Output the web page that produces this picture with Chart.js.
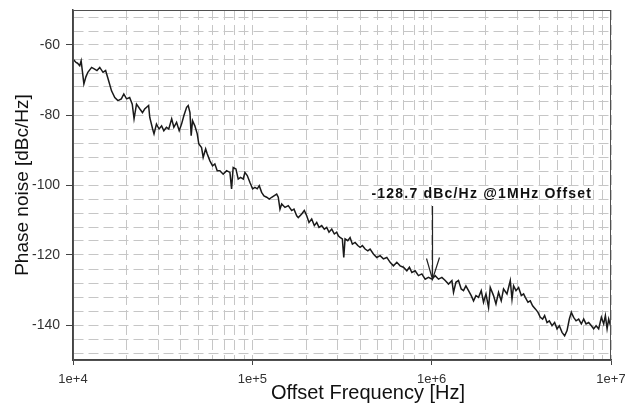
<!DOCTYPE html>
<html>
<head>
<meta charset="utf-8">
<script src="https://cdn.jsdelivr.net/npm/chart.js@4/dist/chart.umd.min.js"></script>
<style>
  html, body { margin: 0; padding: 0; background: #fff; }
  #wrap { width: 625px; height: 405px; }
</style>
</head>
<body>
<div id="wrap"><canvas id="c" width="625" height="405"></canvas></div>
<script>
// offset frequency (Hz)
const freqHz = [
  1.00e4, 1.04e4, 1.06e4, 1.09e4, 1.11e4, 1.15e4, 1.18e4, 1.21e4, 1.27e4, 1.32e4,
  1.36e4, 1.41e4, 1.47e4, 1.52e4, 1.57e4, 1.64e4, 1.71e4, 1.78e4, 1.86e4, 1.92e4,
  1.99e4, 2.07e4, 2.14e4, 2.19e4, 2.26e4, 2.36e4, 2.44e4, 2.51e4, 2.64e4, 2.68e4,
  2.78e4, 2.83e4, 2.92e4, 3.02e4, 3.12e4, 3.21e4, 3.32e4, 3.42e4, 3.55e4, 3.65e4,
  3.78e4, 3.91e4, 4.03e4, 4.15e4, 4.30e4, 4.39e4, 4.49e4, 4.56e4, 4.64e4, 4.78e4,
  4.93e4, 5.03e4, 5.21e4, 5.32e4, 5.49e4, 5.60e4, 5.80e4, 6.00e4, 6.18e4, 6.37e4,
  6.59e4, 6.88e4, 7.19e4, 7.50e4, 7.66e4, 7.82e4, 8.10e4, 8.34e4, 8.60e4, 8.90e4,
  9.09e4, 9.37e4, 9.70e4, 1.004e5, 1.034e5, 1.065e5, 1.093e5, 1.127e5, 1.161e5, 1.202e5,
  1.243e5, 1.282e5, 1.320e5, 1.367e5, 1.395e5, 1.426e5, 1.458e5, 1.521e5, 1.586e5, 1.657e5,
  1.707e5, 1.768e5, 1.804e5, 1.885e5, 1.949e5, 2.010e5, 2.070e5, 2.143e5, 2.216e5, 2.286e5,
  2.354e5, 2.437e5, 2.520e5, 2.599e5, 2.677e5, 2.772e5, 2.866e5, 2.956e5, 3.017e5, 3.084e5,
  3.176e5, 3.235e5, 3.289e5, 3.405e5, 3.508e5, 3.613e5, 3.741e5, 3.873e5, 3.989e5, 4.109e5,
  4.254e5, 4.404e5, 4.536e5, 4.732e5, 4.943e5, 5.158e5, 5.381e5, 5.622e5, 5.866e5, 6.119e5,
  6.393e5, 6.670e5, 6.959e5, 7.270e5, 7.516e5, 7.752e5, 8.088e5, 8.438e5, 8.815e5, 9.197e5,
  9.596e5, 1.003e6, 1.046e6, 1.092e6, 1.140e6, 1.190e6, 1.241e6, 1.297e6, 1.324e6, 1.365e6,
  1.411e6, 1.461e6, 1.505e6, 1.552e6, 1.605e6, 1.662e6, 1.712e6, 1.766e6, 1.825e6, 1.890e6,
  1.946e6, 2.008e6, 2.076e6, 2.122e6, 2.213e6, 2.283e6, 2.360e6, 2.443e6, 2.517e6, 2.630e6,
  2.744e6, 2.805e6, 2.863e6, 2.953e6, 3.053e6, 3.161e6, 3.256e6, 3.327e6, 3.444e6, 3.548e6,
  3.655e6, 3.785e6, 3.917e6, 4.035e6, 4.156e6, 4.264e6, 4.398e6, 4.530e6, 4.690e6, 4.849e6,
  5.000e6, 5.151e6, 5.333e6, 5.514e6, 5.687e6, 5.858e6, 6.010e6, 6.191e6, 6.385e6, 6.602e6,
  6.834e6, 7.040e6, 7.261e6, 7.508e6, 7.773e6, 8.005e6, 8.256e6, 8.536e6, 8.838e6, 9.103e6,
  9.304e6, 9.510e6, 9.707e6, 1.0e7
];

// phase noise (dBc/Hz)
const phaseNoise = [
  -64.0, -65.0, -65.2, -65.9, -64.5, -71.1, -69.1, -67.8, -66.4, -66.9,
  -67.3, -66.4, -67.8, -67.3, -69.7, -73.1, -75.0, -75.9, -75.4, -74.0,
  -75.4, -75.0, -76.9, -81.1, -76.9, -78.3, -79.3, -78.3, -77.3, -80.7,
  -84.0, -85.4, -82.6, -84.0, -83.1, -84.5, -83.5, -84.0, -81.1, -83.5,
  -82.1, -84.5, -82.6, -80.2, -77.8, -77.3, -79.3, -85.9, -81.6, -83.1,
  -85.4, -88.3, -89.3, -92.1, -89.7, -91.1, -93.1, -94.5, -94.0, -95.9,
  -95.9, -96.9, -95.9, -96.4, -101.1, -95.0, -95.4, -98.3, -97.8, -98.3,
  -96.4, -97.3, -99.3, -101.1, -100.7, -101.1, -100.2, -102.1, -103.1, -103.5,
  -104.0, -103.5, -103.1, -102.6, -103.5, -106.9, -105.4, -106.4, -105.9, -107.3,
  -106.9, -108.8, -109.3, -108.3, -107.3, -108.8, -110.7, -109.7, -111.6, -110.7,
  -112.1, -111.6, -112.6, -112.1, -113.5, -112.6, -114.0, -113.5, -114.5, -115.0,
  -115.4, -120.7, -115.4, -115.9, -115.0, -116.9, -116.4, -117.3, -117.8, -117.3,
  -118.3, -118.8, -118.3, -119.7, -120.7, -120.2, -121.1, -120.7, -122.1, -123.1,
  -122.1, -123.1, -123.5, -124.5, -123.5, -125.0, -124.5, -125.9, -125.4, -126.9,
  -126.4, -126.9, -125.9, -126.9, -126.4, -127.3, -128.3, -127.3, -130.7, -127.8,
  -127.3, -129.7, -130.2, -128.8, -130.2, -131.6, -133.1, -131.6, -132.1, -130.2,
  -133.5, -131.1, -135.0, -129.3, -131.6, -134.0, -130.7, -133.1, -129.7, -131.1,
  -127.3, -132.6, -128.8, -130.2, -129.3, -131.6, -131.1, -132.1, -133.5, -133.1,
  -134.5, -135.4, -136.4, -137.8, -138.3, -137.3, -139.3, -138.8, -140.2, -139.3,
  -141.1, -140.2, -142.1, -143.1, -141.6, -138.3, -136.4, -137.8, -138.8, -138.3,
  -139.7, -138.3, -139.7, -139.3, -140.2, -141.1, -140.2, -141.1, -137.8, -139.7,
  -137.3, -141.1, -138.3, -140.7
];

// axes
const xMin = 1e4, xMax = 1e7;
const xDecades = [1e4, 1e5, 1e6, 1e7];
const yMin = -150, yMax = -50;
const yGridStep = 4;      // dashed grid every 4 dB
const yLabelStep = 20;    // labels every 20 dB

// annotation
const noteText = '-128.7 dBc/Hz @1MHz Offset';
const noteFreq = 1e6;
const noteTip = -127.0;
const noteTail = -106.0;

const FONT = "'Liberation Sans', Arial, sans-serif";

function xGridValues() {
  const vals = [];
  for (let d = 0; d < xDecades.length - 1; d++) {
    for (let m = 1; m <= 9; m++) vals.push(m * xDecades[d]);
  }
  vals.push(xMax);
  return vals;
}

function yGridValues() {
  const vals = [];
  for (let v = Math.ceil((yMin + 1) / yGridStep) * yGridStep; v < yMax; v += yGridStep) vals.push(v);
  return vals;
}

function isDecade(v) {
  const l = Math.log10(v);
  return Math.abs(l - Math.round(l)) < 1e-9;
}

const overlay = {
  id: 'overlay',
  afterDraw(chart) {
    const { ctx, chartArea: a, scales } = chart;
    ctx.save();
    // frame
    ctx.strokeStyle = '#505050';
    ctx.lineWidth = 1;
    ctx.strokeRect(a.left + 0.5, a.top + 0.5, a.right - a.left - 1, a.bottom - a.top);

    // arrow
    const ax = Math.round(scales.x.getPixelForValue(noteFreq)) + 0.5;
    const tipY = scales.y.getPixelForValue(noteTip);
    const tailY = scales.y.getPixelForValue(noteTail);
    ctx.strokeStyle = '#222';
    ctx.lineWidth = 1.2;
    ctx.beginPath();
    ctx.moveTo(ax, tailY);
    ctx.lineTo(ax, tipY);
    ctx.moveTo(ax - 6, tipY - 21);
    ctx.lineTo(ax, tipY);
    ctx.lineTo(ax + 7, tipY - 22);
    ctx.stroke();

    // annotation text
    ctx.fillStyle = '#111';
    ctx.font = 'bold 14px ' + FONT;
    if ('letterSpacing' in ctx) ctx.letterSpacing = '1.2px';
    ctx.textAlign = 'left';
    ctx.textBaseline = 'alphabetic';
    ctx.fillText(noteText, ax - 61, tailY - 8);
    if ('letterSpacing' in ctx) ctx.letterSpacing = '0px';

    // x axis title
    ctx.font = '20px ' + FONT;
    ctx.textAlign = 'center';
    ctx.textBaseline = 'middle';
    ctx.fillText('Offset Frequency [Hz]', 368, 393);
    ctx.restore();
  }
};

const data = freqHz.map((f, i) => ({ x: f, y: phaseNoise[i] }));

new Chart(document.getElementById('c').getContext('2d'), {
  type: 'line',
  data: {
    datasets: [{
      data: data,
      borderColor: '#1a1a1a',
      borderWidth: 1.5,
      pointRadius: 0,
      tension: 0,
      fill: false
    }]
  },
  options: {
    responsive: false,
    animation: false,
    layout: { padding: { top: 10, right: 14, left: 0, bottom: 0 } },
    plugins: {
      legend: { display: false },
      tooltip: { enabled: false }
    },
    scales: {
      x: {
        type: 'logarithmic',
        min: xMin,
        max: xMax,
        afterBuildTicks: (scale) => {
          scale.ticks = xGridValues().map(v => ({ value: v }));
        },
        afterFit: (scale) => {
          scale.height = 45;
          scale.paddingLeft = 0;
          scale.paddingRight = 0;
        },
        grid: {
          color: '#c6c6c6',
          lineWidth: 1,
          tickLength: 5,
          tickColor: (c) => (c.tick && isDecade(c.tick.value)) ? '#444' : 'rgba(0,0,0,0)'
        },
        border: { color: '#444', width: 1.5, dash: [10, 5] },
        ticks: {
          autoSkip: false,
          maxRotation: 0,
          padding: 7,
          color: '#333',
          font: { family: FONT, size: 13 },
          callback: (v) => isDecade(v) ? '1e+' + Math.round(Math.log10(v)) : ''
        }
      },
      y: {
        min: yMin,
        max: yMax,
        afterBuildTicks: (scale) => {
          scale.ticks = yGridValues().map(v => ({ value: v }));
        },
        afterFit: (scale) => {
          scale.width = 73;
          scale.paddingTop = 0;
          scale.paddingBottom = 0;
        },
        grid: {
          color: '#c6c6c6',
          lineWidth: 1,
          tickLength: 7,
          tickColor: (c) => (c.tick && c.tick.value % yLabelStep === 0) ? '#444' : 'rgba(0,0,0,0)'
        },
        border: { color: '#444', width: 1.5, dash: [10, 5] },
        ticks: {
          autoSkip: false,
          padding: 6,
          color: '#333',
          font: { family: FONT, size: 14 },
          callback: (v) => v % yLabelStep === 0 ? String(v) : ''
        },
        title: {
          display: true,
          text: 'Phase noise [dBc/Hz]',
          color: '#111',
          font: { family: FONT, size: 19 },
          padding: { top: 11, bottom: 0 }
        }
      }
    }
  },
  plugins: [overlay]
});
</script>
</body>
</html>
